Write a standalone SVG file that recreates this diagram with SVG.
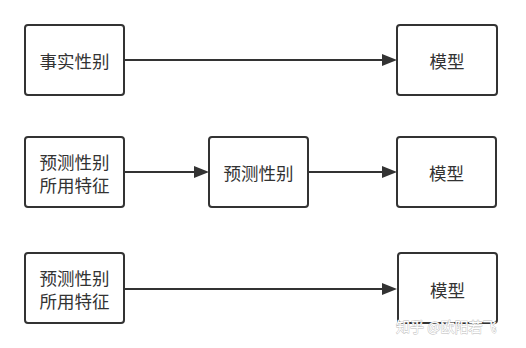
<svg xmlns="http://www.w3.org/2000/svg" width="526" height="348" viewBox="0 0 526 348">
<style>
.box{fill:#fff;stroke:#333;stroke-width:2}
.t{font-family:"Noto Sans CJK SC","Liberation Sans",sans-serif;font-size:17.5px;fill:#333;text-anchor:middle;dominant-baseline:central}
.c{stroke:#333;stroke-width:2;fill:none}
.ah{fill:#333}
.wm{font-family:"Noto Sans CJK SC",sans-serif;font-size:14px;fill:#fff;stroke:#bbb;stroke-width:0.8;paint-order:stroke}
</style>
<rect width="526" height="348" fill="#fff"/>
<g id="connectors">
<line class="c" x1="125" y1="60" x2="384" y2="60"/>
<polygon class="ah" points="382,54 397,60 382,66"/>
<line class="c" x1="125" y1="172" x2="196" y2="172"/>
<polygon class="ah" points="194,166 209,172 194,178"/>
<line class="c" x1="309" y1="172" x2="384" y2="172"/>
<polygon class="ah" points="382,166 397,172 382,178"/>
<line class="c" x1="125" y1="289" x2="384" y2="289"/>
<polygon class="ah" points="382,283 397,289 382,295"/>
</g>
<g id="n1"><rect class="box" x="25" y="25" width="99" height="70" rx="3"/><text class="t" x="74.5" y="60">事实性别</text></g>
<g id="n2"><rect class="box" x="397" y="25" width="100" height="70" rx="3"/><text class="t" x="447" y="60">模型</text></g>
<g id="n3"><rect class="box" x="25" y="137" width="99" height="70" rx="3"/><text class="t" x="74.5" y="161">预测性别</text><text class="t" x="74.5" y="184">所用特征</text></g>
<g id="n4"><rect class="box" x="209" y="137" width="99" height="70" rx="3"/><text class="t" x="258.5" y="172">预测性别</text></g>
<g id="n5"><rect class="box" x="397" y="137" width="99" height="70" rx="3"/><text class="t" x="446.5" y="172">模型</text></g>
<g id="n6"><rect class="box" x="25" y="253" width="99" height="70" rx="3"/><text class="t" x="74.5" y="277">预测性别</text><text class="t" x="74.5" y="300">所用特征</text></g>
<g id="n7"><rect class="box" x="398" y="253" width="99" height="70" rx="3"/><text class="t" x="447.5" y="289">模型</text></g>
<text class="wm" x="396" y="332">知乎 @欧阳若飞</text>
</svg>
